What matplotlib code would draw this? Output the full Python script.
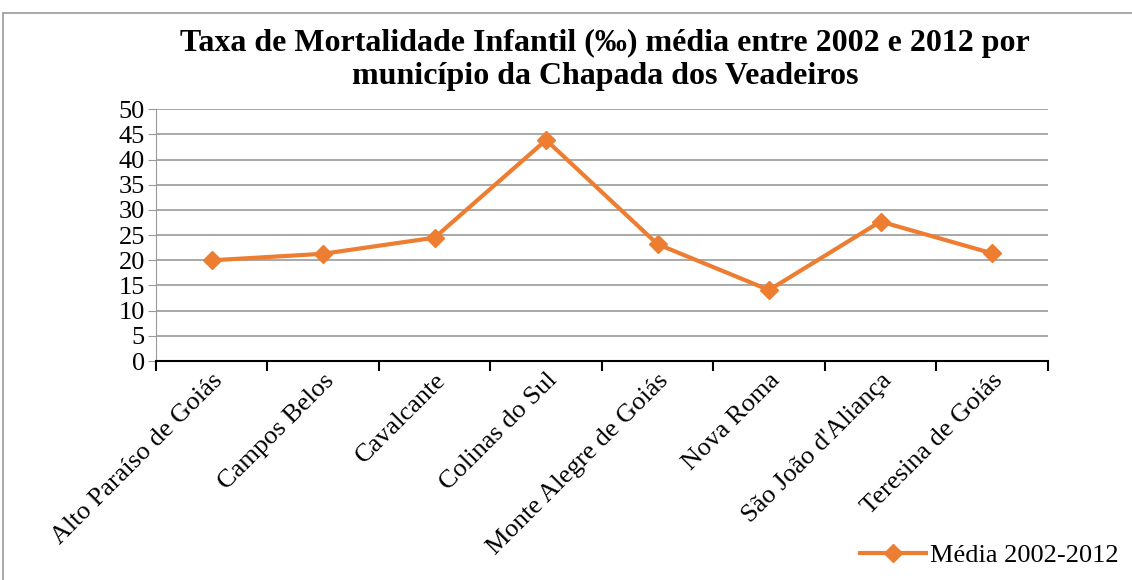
import numpy as np
import matplotlib.pyplot as plt
from matplotlib.patches import Rectangle

# dados
municipios = ['Alto Paraíso de Goiás', 'Campos Belos', 'Cavalcante', 'Colinas do Sul',
              'Monte Alegre de Goiás', 'Nova Roma', "São João d'Aliança", 'Teresina de Goiás']
media = [20.0, 21.3, 24.5, 43.9, 23.2, 14.1, 27.7, 21.4]
serie = 'Média 2002-2012'
titulo = 'Taxa de Mortalidade Infantil (‰) média entre 2002 e 2012 por\nmunicípio da Chapada dos Veadeiros'

plt.rcParams['font.family'] = ['Liberation Serif', 'DejaVu Serif']

W, H = 1132, 580
fig = plt.figure(figsize=(W / 100, H / 100), dpi=100)
ax = fig.add_axes([156 / W, 1 - 361 / H, (1047.7 - 156) / W, (361 - 109.3) / H])

laranja = '#ED7D31'
x = np.arange(len(municipios))
ax.plot(x, media, color=laranja, lw=3, marker='D', ms=9, label=serie)

ax.set_xlim(-0.5, len(municipios) - 0.5)
ax.set_ylim(0, 50)
ax.set_yticks(np.arange(0, 51, 5))
ax.grid(axis='y', color='#999999', lw=1.2)
ax.set_axisbelow(True)

for s in ['top', 'right']:
    ax.spines[s].set_visible(False)
ax.spines['left'].set_color('#999999')
ax.spines['bottom'].set_color('black')
ax.spines['bottom'].set_linewidth(1.5)

ax.set_xticks(x)
ax.set_xticklabels(municipios, rotation=45, ha='right', rotation_mode='anchor', fontsize=19)
ax.tick_params(axis='x', which='major', length=0, pad=6)
ax.set_xticks(np.arange(-0.5, len(municipios)), minor=True)
ax.tick_params(axis='x', which='minor', length=7, width=1.5, color='black')
ax.tick_params(axis='y', length=6, color='#999999', labelsize=19, pad=2)

fig.suptitle(titulo, fontsize=23, fontweight='bold', x=605 / W, y=1 - 29 / H, va='top',
             linespacing=1.2)

fig.legend(loc='lower right', bbox_to_anchor=(1.0, 0.0), frameon=False, fontsize=19,
           handlelength=2.5, handletextpad=0.15, borderaxespad=0.1)

# moldura da área do gráfico
fig.patches.append(Rectangle((3 / W, -0.1), 1.2, 1 - 13 / H + 0.1, transform=fig.transFigure,
                             fill=False, edgecolor='#999999', lw=1.2))

fig.savefig('out.png', dpi=100)
